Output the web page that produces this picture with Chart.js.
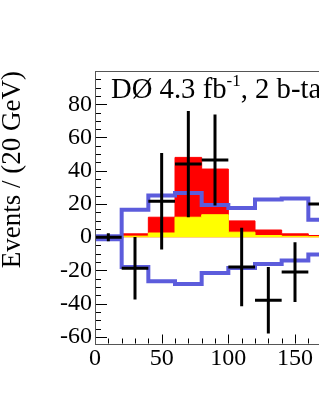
<!DOCTYPE html>
<html>
<head>
<meta charset="utf-8">
<script src="https://cdn.jsdelivr.net/npm/chart.js@4.4.0/dist/chart.umd.min.js"></script>
<style>
  html, body { margin: 0; padding: 0; background: #fff; }
</style>
</head>
<body>
<canvas id="chart" width="319" height="412"></canvas>
<script>
// 20 GeV bins
const binEdges = [0, 20, 40, 60, 80, 100, 120, 140, 160, 180];
// stacked expectation: yellow part and total (red on top)
const yellowPart = [0, 0.6, 2.5, 12, 13.5, 3, 1, 0.5, 0.3];
const redTotal = [0, 2, 12, 48, 41, 9.8, 4.3, 2, 1];
// blue band, upper and lower edge
const bandUpper = [0.5, 16.5, 25, 26.6, 19.4, 17.6, 22.6, 23.2, 10.5];
const bandLower = [-1.2, -18, -26.6, -28.2, -21.6, -18.6, -16.2, -14, -10.5];
// data points (background subtracted) and errors
const dataValues = [0, -18.7, 21.6, 44, 46.4, -18, -38, -21, 20];
const dataErrors = [2.4, 18.8, 29, 32, 27.4, 23.6, 20, 18, 22];

const xTicks = [0, 50, 100, 150];
const yTicks = [-60, -40, -20, 0, 20, 40, 60, 80];
const xMinorStep = 10;
const yMinorStep = 5;

const RED = '#ff0000';
const YELLOW = '#ffff00';
const BLUE = '#5c5cdc';
const FONT = 'Liberation Serif';

// step histogram: first point at the low edge, then one per bin high edge
function steps(vals) {
  const pts = [{ x: binEdges[0], y: vals[0] }];
  vals.forEach((v, i) => pts.push({ x: binEdges[i + 1], y: v }));
  return pts;
}

// horizontal bin-width bars and vertical error bars, separated by gaps
const hBars = [];
const vBars = [];
dataValues.forEach((v, i) => {
  const lo = binEdges[i], hi = binEdges[i + 1], c = (lo + hi) / 2;
  hBars.push({ x: lo, y: v }, { x: hi, y: v }, { x: hi, y: null });
  vBars.push({ x: c, y: v - dataErrors[i] }, { x: c, y: v + dataErrors[i] }, { x: c, y: null });
});

// Chart.js 'after' draws vertical at the previous x, so each point's value spans the bin before it
const histLine = { radius: 0, stepped: 'after', tension: 0 };

const decor = {
  id: 'decor',
  afterDatasetsDraw(chart) {
    const { ctx, chartArea: a, scales: { x, y } } = chart;
    ctx.save();
    ctx.strokeStyle = '#000';
    ctx.lineWidth = 1;
    ctx.beginPath();
    // y ticks, inside the frame
    for (let v = Math.ceil(y.min / yMinorStep) * yMinorStep; v <= y.max; v += yMinorStep) {
      const py = Math.round(y.getPixelForValue(v)) + 0.5;
      const len = yTicks.includes(v) ? 12 : 6;
      ctx.moveTo(a.left, py);
      ctx.lineTo(a.left + len, py);
    }
    // x ticks
    for (let v = 0; v <= x.max; v += xMinorStep) {
      const px = Math.round(x.getPixelForValue(v)) + 0.5;
      const len = xTicks.includes(v) ? 9 : 5;
      ctx.moveTo(px, a.bottom);
      ctx.lineTo(px, a.bottom - len);
    }
    ctx.stroke();
    // frame
    ctx.strokeStyle = '#555';
    ctx.strokeRect(Math.round(a.left) + 0.5, Math.round(a.top) + 0.5, a.width, Math.round(a.height));

    // label
    ctx.fillStyle = '#000';
    ctx.textBaseline = 'alphabetic';
    ctx.font = '28.7px "' + FONT + '"';
    let tx = 111, ty = 98;
    ctx.fillText('DØ 4.3 fb', tx, ty);
    tx += ctx.measureText('DØ 4.3 fb').width;
    ctx.font = '17px "' + FONT + '"';
    ctx.fillText('-1', tx, ty - 12);
    tx += ctx.measureText('-1').width;
    ctx.font = '28.7px "' + FONT + '"';
    ctx.fillText(', 2 b-tags', tx, ty);
    ctx.restore();
  }
};

new Chart(document.getElementById('chart'), {
  type: 'line',
  data: {
    datasets: [
      { data: vBars, borderColor: '#000', borderWidth: 3, radius: 0, spanGaps: false, order: 0 },
      { data: hBars, borderColor: '#000', borderWidth: 3, radius: 0, spanGaps: false, order: 1 },
      { data: steps(bandUpper), borderColor: BLUE, borderWidth: 4, order: 2, ...histLine },
      { data: steps(bandLower), borderColor: BLUE, borderWidth: 4, order: 3, ...histLine },
      { data: steps(yellowPart), borderColor: YELLOW, backgroundColor: YELLOW, borderWidth: 1, fill: 'origin', order: 4, ...histLine },
      { data: steps(redTotal), borderColor: RED, backgroundColor: RED, borderWidth: 1, fill: 'origin', order: 5, ...histLine }
    ]
  },
  options: {
    responsive: false,
    animation: false,
    layout: { padding: { top: 71, right: 0, bottom: 0, left: 0 } },
    plugins: { legend: { display: false }, tooltip: { enabled: false } },
    scales: {
      x: {
        type: 'linear',
        min: 0,
        max: 168,
        grid: { display: false, drawTicks: false },
        border: { display: false },
        afterBuildTicks: s => { s.ticks = xTicks.map(v => ({ value: v })); },
        afterFit: s => { s.height = 68.5; },
        ticks: { color: '#000', padding: 1, maxRotation: 0, autoSkip: false, font: { family: FONT, size: 24 } }
      },
      y: {
        type: 'linear',
        min: -64,
        max: 100,
        grid: { display: false, drawTicks: false },
        border: { display: false },
        afterBuildTicks: s => { s.ticks = yTicks.map(v => ({ value: v })); },
        afterFit: s => { s.width = 95; },
        ticks: { color: '#000', padding: 3, autoSkip: false, font: { family: FONT, size: 24 } },
        title: {
          display: true,
          text: 'Events / (20 GeV)',
          align: 'end',
          color: '#000',
          padding: { top: -1, bottom: 0 },
          font: { family: FONT, size: 27, lineHeight: 1 }
        }
      }
    }
  },
  plugins: [decor]
});
</script>
</body>
</html>
